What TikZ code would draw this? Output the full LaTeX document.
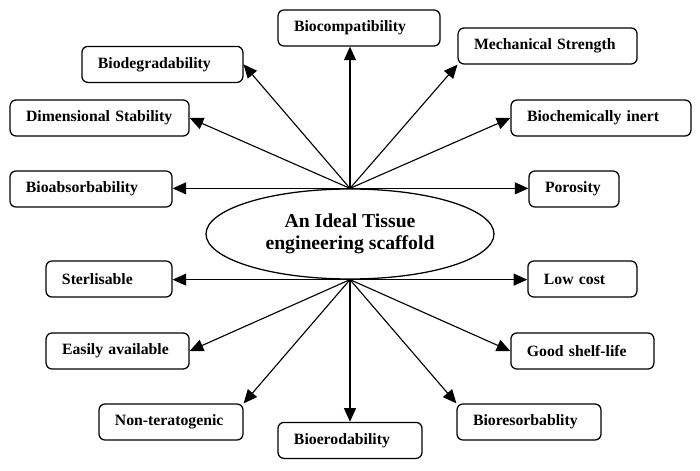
\documentclass[tikz,border=0pt]{standalone}
\usepackage{fontspec}
\setmainfont{Liberation Serif}
\usetikzlibrary{shapes,arrows.meta}

\begin{document}
\begin{tikzpicture}[
prop/.style={rectangle, draw, line width=0.9pt, rounded corners=1.5mm, minimum height=0.9cm, inner xsep=4mm, text width=#1, align=left, font=\fontsize{11.2}{13}\selectfont\bfseries},
core/.style={ellipse, draw, line width=0.9pt, minimum width=7.2cm, minimum height=2.25cm, align=center, font=\fontsize{14}{15.6}\selectfont\bfseries},
seta/.style={line width=0.8pt, -{Triangle[length=3.4mm, width=3mm]}},
]
\useasboundingbox (-8.75,-5.9) rectangle (8.75,5.85);

% Elipse central
\node[core] (scaf) at (0,0) {An Ideal Tissue\\engineering scaffold};

% Propriedades (acima)
\node[prop=3.25cm] (bcomp) at (0.225,5.15) {Biocompatibility};
\node[prop=3.675cm] (mech) at (4.94,4.7) {Mechanical Strength};
\node[prop=3.225cm] (bdeg) at (-4.69,4.24) {Biodegradability};
\node[prop=3.675cm] (dim) at (-6.26,2.9) {Dimensional Stability};
\node[prop=3.7cm] (binert) at (6.275,2.9) {Biochemically inert};
\node[prop=3.25cm] (babs) at (-6.475,1.125) {Bioabsorbability};
\node[prop=1.45cm] (por) at (5.6,1.125) {Porosity};

% Propriedades (abaixo)
\node[prop=2.35cm] (ster) at (-6.025,-1.125) {Sterlisable};
\node[prop=1.925cm] (cost) at (5.81,-1.125) {Low cost};
\node[prop=2.775cm] (avail) at (-5.81,-2.925) {Easily available};
\node[prop=2.775cm] (shelf) at (5.81,-2.925) {Good shelf-life};
\node[prop=2.8cm] (terat) at (-4.475,-4.7) {Non-teratogenic};
\node[prop=2.8cm] (berod) at (0,-5.16) {Bioerodability};
\node[prop=2.8cm] (bres) at (4.475,-4.7) {Bioresorbablity};

% Setas a partir do topo
\draw[seta] (scaf.north) -- (scaf.north |- bcomp.south);
\draw[seta] (scaf.north) -- (mech.south west);
\draw[seta] (scaf.north) -- (bdeg.east);
\draw[seta] (scaf.north) -- (dim.east);
\draw[seta] (scaf.north) -- (binert.west);
\draw[seta] (scaf.north) -- (scaf.north -| babs.east);
\draw[seta] (scaf.north) -- (scaf.north -| por.west);

% Setas a partir da base
\draw[seta] (scaf.south) -- (scaf.south -| ster.east);
\draw[seta] (scaf.south) -- (scaf.south -| cost.west);
\draw[seta] (scaf.south) -- (avail.east);
\draw[seta] (scaf.south) -- (shelf.west);
\draw[seta] (scaf.south) -- (terat.north east);
\draw[seta] (scaf.south) -- (berod.north);
\draw[seta] (scaf.south) -- (bres.north west);

\end{tikzpicture}
\end{document}
